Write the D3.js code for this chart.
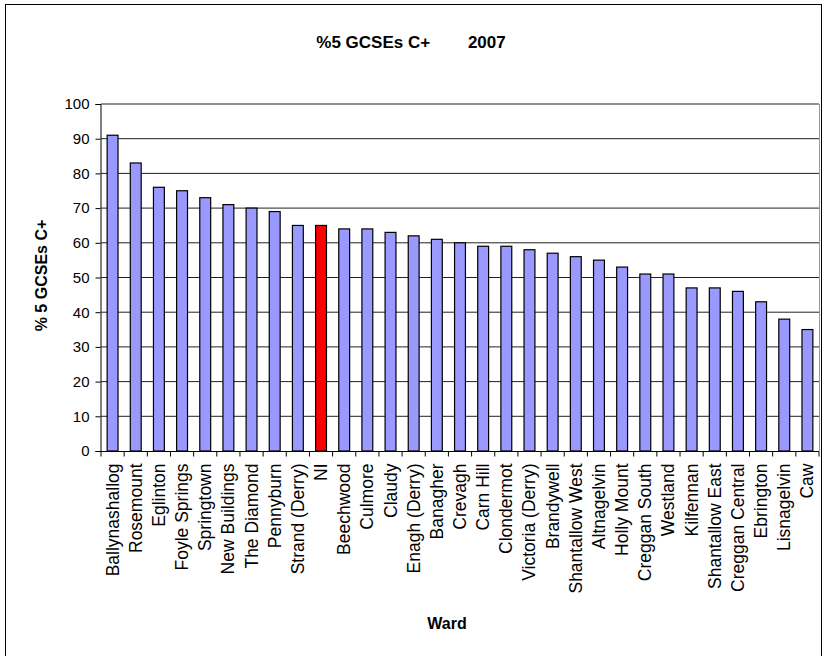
<!DOCTYPE html>
<html>
<head>
<meta charset="utf-8">
<script src="https://cdn.jsdelivr.net/npm/d3@7"></script>
<style>
  body { margin: 0; background: #fff; }
  text { font-family: "Liberation Sans", Arial, sans-serif; fill: #000; }
</style>
</head>
<body>
<div id="chart"></div>
<script>
// wards sorted by score, NI average is highlighted
var wards = ["Ballynashallog", "Rosemount", "Eglinton", "Foyle Springs", "Springtown",
  "New Buildings", "The Diamond", "Pennyburn", "Strand (Derry)", "NI", "Beechwood",
  "Culmore", "Claudy", "Enagh (Derry)", "Banagher", "Crevagh", "Carn Hill", "Clondermot",
  "Victoria (Derry)", "Brandywell", "Shantallow West", "Altnagelvin", "Holly Mount",
  "Creggan South", "Westland", "Kilfennan", "Shantallow East", "Creggan Central",
  "Ebrington", "Lisnagelvin", "Caw"];
var pct = [91, 83, 76, 75, 73, 71, 70, 69, 65, 65, 64,
  64, 63, 62, 61, 60, 59, 59,
  58, 57, 56, 55, 53,
  51, 51, 47, 47, 46,
  43, 38, 35];
var yTicks = [0, 10, 20, 30, 40, 50, 60, 70, 80, 90, 100];
var highlight = "NI";

var W = 823, H = 656;
var svg = d3.select("#chart").append("svg").attr("width", W).attr("height", H);

// outer chart border (runs off the bottom like the original)
svg.append("rect")
  .attr("x", 5.5).attr("y", 4.5)
  .attr("width", 816).attr("height", 670)
  .attr("fill", "none").attr("stroke", "#000").attr("stroke-width", 1);

var pLeft = 101, pRight = 819, pTop = 104, pBottom = 451;

var x = d3.scaleBand().domain(wards).range([pLeft, pRight])
  .paddingInner(0.53).paddingOuter(0.265);
var xb = d3.scaleBand().domain(wards).range([pLeft, pRight]); // for tick marks
var y = d3.scaleLinear().domain([0, 100]).range([pBottom, pTop]);

// gridlines
svg.append("g").selectAll("line")
  .data(yTicks.filter(function(d) { return d > 0; }))
  .enter().append("line")
  .attr("x1", pLeft).attr("x2", pRight)
  .attr("y1", function(d) { return y(d); })
  .attr("y2", function(d) { return y(d); })
  .attr("stroke", "#222").attr("stroke-width", 1);

// right edge of plot area
svg.append("line")
  .attr("x1", pRight + 0.5).attr("x2", pRight + 0.5)
  .attr("y1", pTop).attr("y2", pBottom)
  .attr("stroke", "#999");

// bars
svg.append("g").selectAll("rect")
  .data(wards)
  .enter().append("rect")
  .attr("x", function(d) { return x(d); })
  .attr("y", function(d, i) { return y(pct[i]); })
  .attr("width", x.bandwidth())
  .attr("height", function(d, i) { return pBottom - y(pct[i]); })
  .attr("fill", function(d) { return d == highlight ? "#ff0000" : "#9999ff"; })
  .attr("stroke", "#000").attr("stroke-width", 1.2);

// y axis
var yAxis = d3.axisLeft(y).tickValues(yTicks).tickSize(5).tickPadding(6);
var gy = svg.append("g").attr("transform", "translate(" + (pLeft - 0.5) + ",0)").call(yAxis);
gy.select(".domain").attr("stroke", "#000");
gy.selectAll(".tick line").attr("stroke", "#000");
gy.selectAll("text")
  .style("font-family", "Liberation Sans, Arial, sans-serif")
  .style("font-size", "15px");

// x axis: ticks sit on band boundaries
var gx = svg.append("g").attr("transform", "translate(0," + (pBottom + 0.5) + ")");
gx.append("line").attr("x1", pLeft).attr("x2", pRight).attr("stroke", "#000");
var bounds = wards.map(function(d) { return xb(d); }).concat([pRight]);
gx.selectAll("line.tk").data(bounds).enter().append("line")
  .attr("class", "tk")
  .attr("x1", function(d) { return d; }).attr("x2", function(d) { return d; })
  .attr("y1", 0).attr("y2", 5).attr("stroke", "#000");
gx.selectAll("text").data(wards).enter().append("text")
  .attr("transform", function(d) {
    return "translate(" + (xb(d) + xb.bandwidth() / 2 + 6) + ",12) rotate(-90)";
  })
  .attr("text-anchor", "end")
  .style("font-size", "17.5px")
  .text(function(d) { return d; });

// titles
svg.append("text")
  .attr("x", 411).attr("y", 48)
  .attr("text-anchor", "middle")
  .attr("xml:space", "preserve")
  .style("font-size", "17px").style("font-weight", "bold")
  .text("%5 GCSEs C+        2007");

svg.append("text")
  .attr("x", 447).attr("y", 629)
  .attr("text-anchor", "middle")
  .style("font-size", "16px").style("font-weight", "bold")
  .text("Ward");

svg.append("text")
  .attr("transform", "translate(47," + ((pTop + pBottom) / 2 - 2) + ") rotate(-90)")
  .attr("text-anchor", "middle")
  .style("font-size", "16px").style("font-weight", "bold")
  .text("% 5 GCSEs C+");
</script>
</body>
</html>
